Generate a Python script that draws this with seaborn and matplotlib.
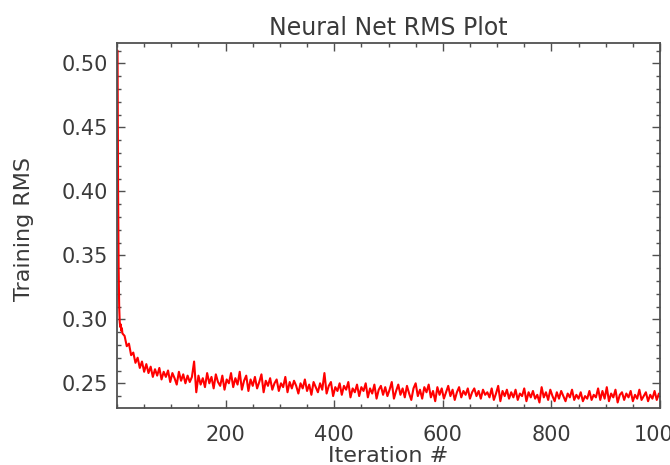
import numpy as np
import pandas as pd
import matplotlib
matplotlib.use("Agg")
import matplotlib.pyplot as plt
import seaborn as sns
from matplotlib.ticker import MultipleLocator, FormatStrFormatter

# iterations: first ten one by one, then every 4th
early_iter = [1, 2, 3, 4, 5, 6, 7, 8, 9, 10]
late_iter = list(range(14, 999, 4))

early_rms = [0.510, 0.400, 0.340, 0.310, 0.298, 0.294, 0.296, 0.291, 0.293, 0.289]
late_rms = [
    0.287, 0.279, 0.281, 0.272, 0.274, 0.266, 0.270, 0.262, 0.267, 0.259,
    0.265, 0.258, 0.263, 0.255, 0.261, 0.256, 0.262, 0.253, 0.259, 0.255,
    0.260, 0.251, 0.258, 0.254, 0.249, 0.259, 0.252, 0.257, 0.250, 0.256,
    0.251, 0.255, 0.267, 0.243, 0.256, 0.249, 0.254, 0.247, 0.258, 0.250,
    0.255, 0.246, 0.257, 0.251, 0.248, 0.256, 0.245, 0.253, 0.250, 0.258,
    0.247, 0.254, 0.249, 0.259, 0.245, 0.252, 0.256, 0.244, 0.253, 0.248,
    0.255, 0.246, 0.251, 0.257, 0.243, 0.252, 0.248, 0.254, 0.245, 0.250,
    0.253, 0.244, 0.250, 0.247, 0.255, 0.243, 0.251, 0.246, 0.252, 0.248,
    0.242, 0.250, 0.246, 0.253, 0.244, 0.249, 0.241, 0.251, 0.247, 0.243,
    0.250, 0.245, 0.258, 0.242, 0.248, 0.251, 0.240, 0.247, 0.244, 0.250,
    0.241, 0.248, 0.245, 0.251, 0.239, 0.246, 0.243, 0.249, 0.240, 0.247,
    0.244, 0.250, 0.239, 0.246, 0.242, 0.249, 0.238, 0.245, 0.248, 0.241,
    0.247, 0.240, 0.245, 0.251, 0.238, 0.244, 0.249, 0.241, 0.246, 0.239,
    0.248, 0.242, 0.237, 0.246, 0.250, 0.240, 0.245, 0.238, 0.247, 0.243,
    0.249, 0.239, 0.244, 0.236, 0.247, 0.241, 0.246, 0.238, 0.243, 0.248,
    0.240, 0.245, 0.237, 0.243, 0.247, 0.239, 0.244, 0.241, 0.246, 0.238,
    0.243, 0.246, 0.240, 0.244, 0.238, 0.245, 0.241, 0.243, 0.239, 0.246,
    0.237, 0.242, 0.248, 0.236, 0.244, 0.240, 0.245, 0.238, 0.243, 0.239,
    0.245, 0.237, 0.242, 0.240, 0.246, 0.236, 0.243, 0.239, 0.244, 0.238,
    0.241, 0.235, 0.247, 0.239, 0.243, 0.237, 0.245, 0.240, 0.236, 0.243,
    0.238, 0.244, 0.240, 0.236, 0.242, 0.239, 0.245, 0.237, 0.241, 0.238,
    0.243, 0.236, 0.240, 0.238, 0.244, 0.237, 0.241, 0.239, 0.246, 0.237,
    0.244, 0.238, 0.247, 0.236, 0.242, 0.239, 0.245, 0.235, 0.241, 0.243,
    0.237, 0.242, 0.239, 0.244, 0.236, 0.241, 0.238, 0.245, 0.237, 0.240,
    0.243, 0.236, 0.241, 0.238, 0.244, 0.237, 0.242,
]

x_ticks = [200, 400, 600, 800, 1000]
y_ticks = [0.25, 0.30, 0.35, 0.40, 0.45, 0.50]

df = pd.DataFrame({"iteration": early_iter + late_iter,
                   "rms": early_rms + late_rms})

sns.set_style("ticks")
plt.rcParams["font.family"] = ["DejaVu Sans"]
txt = "#3a3a3a"
edge = "#505050"

fig = plt.figure(figsize=(6.7, 4.65), dpi=100)
ax = fig.add_axes([117 / 670, 57 / 465, 543 / 670, 365 / 465])

sns.lineplot(data=df, x="iteration", y="rms", color="#ff0000",
             linewidth=1.5, estimator=None, ax=ax)

ax.set_xlim(0, 1000)
ax.set_ylim(0.2307, 0.5159)
ax.set_xticks(x_ticks)
ax.set_yticks(y_ticks)
ax.xaxis.set_minor_locator(MultipleLocator(50))
ax.yaxis.set_minor_locator(MultipleLocator(0.01))
ax.yaxis.set_major_formatter(FormatStrFormatter("%.2f"))

for s in ax.spines.values():
    s.set_visible(True)
    s.set_color(edge)
    s.set_linewidth(1.3)

ax.tick_params(which="both", direction="in", top=True, right=True,
               color=edge, width=1.0, labelcolor=txt, labelsize=15)
ax.tick_params(which="major", length=6)
ax.tick_params(which="minor", length=3)
ax.tick_params(axis="x", which="major", pad=12)
ax.tick_params(axis="y", which="major", pad=6.5)

ax.set_xlabel("Iteration #", fontsize=16, color=txt)
ax.set_ylabel("Training RMS", fontsize=16, color=txt)
ax.xaxis.set_label_coords(0.5, -0.105)
ax.yaxis.set_label_coords(-0.153, 0.49)
ax.set_title("Neural Net RMS Plot", fontsize=17, color=txt, pad=6)

fig.savefig("out.png", dpi=100, facecolor="white")
